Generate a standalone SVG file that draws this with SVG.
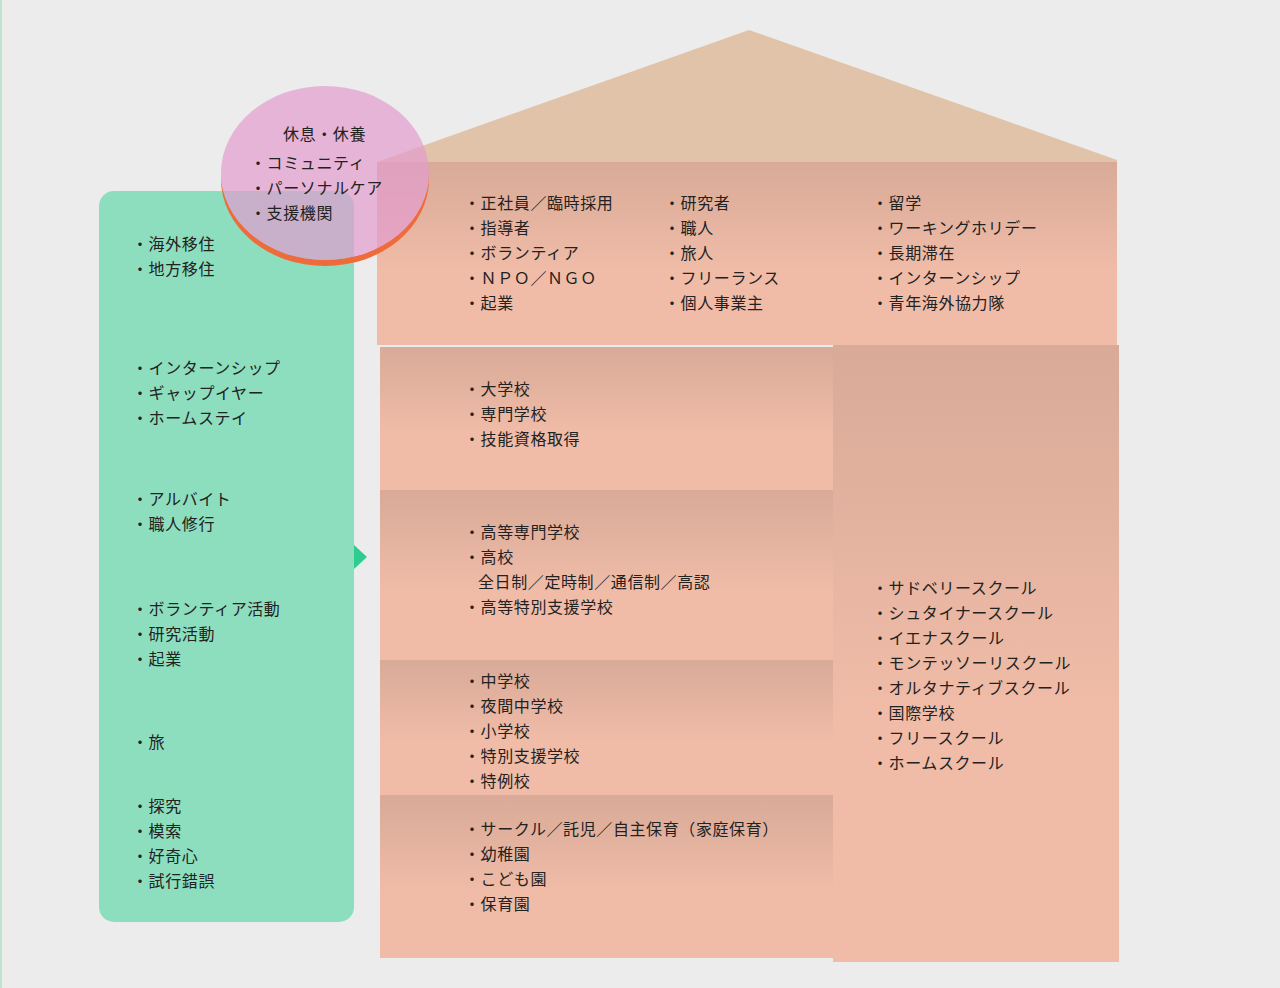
<svg xmlns="http://www.w3.org/2000/svg" width="1280" height="988" viewBox="0 0 1280 988">
<style>
text{font-family:"Noto Sans CJK JP","Noto Sans",sans-serif;font-size:16px;fill:#222;letter-spacing:0.6px}
.box{fill:url(#g)}
</style>
<defs>
<linearGradient id="g" x1="0" y1="0" x2="0" y2="1">
<stop offset="0" stop-color="#d8aa97"/><stop offset="0.6" stop-color="#f0bca8"/><stop offset="1" stop-color="#f0bca8"/>
</linearGradient>
<mask id="rim"><rect width="1280" height="988" fill="#fff"/><ellipse cx="325" cy="173" rx="104" ry="87" fill="#000"/></mask>
</defs>
<rect width="1280" height="988" fill="#ececec"/>
<rect x="0" y="0" width="2" height="988" fill="#bfe3cf"/>
<g id="roof"><polygon points="377,162 749,30 1117,160 1117,165 377,165" fill="#e0c3a8"/></g>
<g id="work"><rect class="box" x="377" y="162" width="740" height="183"/>
<text x="464" y="209">・正社員／臨時採用</text><text x="464" y="234">・指導者</text><text x="464" y="259">・ボランティア</text><text x="464" y="284">・ＮＰＯ／ＮＧＯ</text><text x="464" y="309">・起業</text>
<text x="664" y="209">・研究者</text><text x="664" y="234">・職人</text><text x="664" y="259">・旅人</text><text x="664" y="284">・フリーランス</text><text x="664" y="309">・個人事業主</text>
<text x="872" y="209">・留学</text><text x="872" y="234">・ワーキングホリデー</text><text x="872" y="259">・長期滞在</text><text x="872" y="284">・インターンシップ</text><text x="872" y="309">・青年海外協力隊</text></g>
<g id="univ"><rect class="box" x="380" y="347" width="453" height="143"/>
<text x="464" y="395">・大学校</text><text x="464" y="420">・専門学校</text><text x="464" y="445">・技能資格取得</text></g>
<g id="high"><rect class="box" x="380" y="490" width="453" height="170"/>
<text x="464" y="538">・高等専門学校</text><text x="464" y="563">・高校</text><text x="478" y="588">全日制／定時制／通信制／高認</text><text x="464" y="613">・高等特別支援学校</text></g>
<g id="mid"><rect class="box" x="380" y="660" width="453" height="135"/>
<text x="464" y="687">・中学校</text><text x="464" y="712">・夜間中学校</text><text x="464" y="737">・小学校</text><text x="464" y="762">・特別支援学校</text><text x="464" y="787">・特例校</text></g>
<g id="pre"><rect class="box" x="380" y="795" width="453" height="163"/>
<text x="464" y="835">・サークル／託児／自主保育（家庭保育）</text><text x="464" y="860">・幼稚園</text><text x="464" y="885">・こども園</text><text x="464" y="910">・保育園</text></g>
<g id="alt"><rect class="box" x="833" y="345" width="286" height="617"/>
<text x="872" y="594">・サドベリースクール</text><text x="872" y="619">・シュタイナースクール</text><text x="872" y="644">・イエナスクール</text><text x="872" y="669">・モンテッソーリスクール</text><text x="872" y="694">・オルタナティブスクール</text><text x="872" y="719">・国際学校</text><text x="872" y="744">・フリースクール</text><text x="872" y="769">・ホームスクール</text></g>
<g id="left"><rect x="99" y="191" width="255" height="731" rx="15" fill="#8ddebe"/>
<text x="132" y="250">・海外移住</text><text x="132" y="275">・地方移住</text>
<text x="132" y="374">・インターンシップ</text><text x="132" y="399">・ギャップイヤー</text><text x="132" y="424">・ホームステイ</text>
<text x="132" y="505">・アルバイト</text><text x="132" y="530">・職人修行</text>
<text x="132" y="615">・ボランティア活動</text><text x="132" y="640">・研究活動</text><text x="132" y="665">・起業</text>
<text x="132" y="748">・旅</text>
<text x="132" y="812">・探究</text><text x="132" y="837">・模索</text><text x="132" y="862">・好奇心</text><text x="132" y="887">・試行錯誤</text></g>
<g id="connectors"><polygon points="354,545 367,557 354,569" fill="#2ecc8f"/></g>
<g id="rest"><ellipse cx="325" cy="179" rx="104" ry="87" fill="#ee6c3c" mask="url(#rim)"/>
<ellipse cx="325" cy="173" rx="104" ry="87" fill="#e29ccf" fill-opacity="0.7"/>
<text x="283" y="140">休息・休養</text><text x="250" y="169">・コミュニティ</text><text x="250" y="194">・パーソナルケア</text><text x="250" y="219">・支援機関</text></g>
</svg>
